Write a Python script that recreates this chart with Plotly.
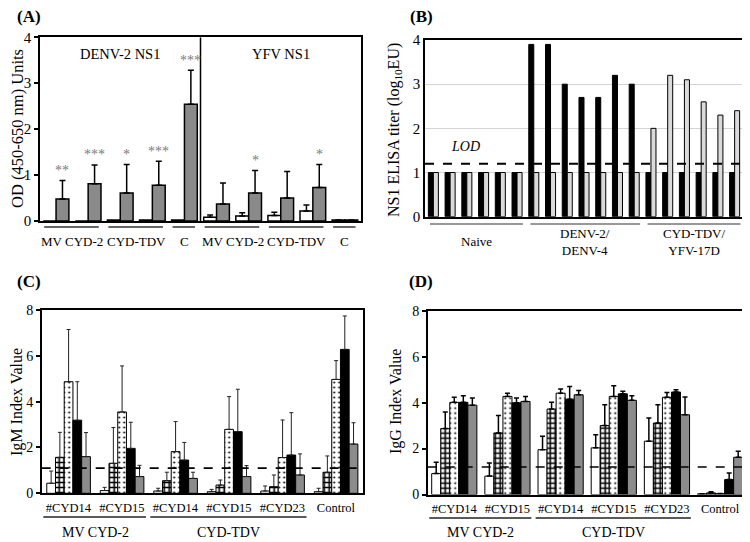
import plotly.graph_objects as go

FONT = "Liberation Serif"
W, H = 750, 542
OFF = 8  # page body margin compensation (px)

# ---------------- Panel A data ----------------
a_denv_x = [1, 2, 3, 4, 5]
a_yfv_x = [6, 7, 8, 9, 10]
a_denv_white = [0.0, 0.0, 0.02, 0.02, 0.02]
a_denv_gray = [0.48, 0.81, 0.61, 0.78, 2.54]
a_denv_gray_sd = [0.40, 0.41, 0.62, 0.52, 0.74]
a_yfv_white = [0.08, 0.11, 0.12, 0.22, 0.02]
a_yfv_white_sd = [0.05, 0.07, 0.07, 0.13, 0.0]
a_yfv_gray = [0.37, 0.61, 0.50, 0.73, 0.02]
a_yfv_gray_sd = [0.46, 0.49, 0.58, 0.50, 0.0]
a_denv_stars = ["**", "***", "*", "***", "***"]
a_yfv_stars = ["", "*", "", "*", ""]
a_group_labels = ["MV CYD-2", "CYD-TDV", "C", "MV CYD-2", "CYD-TDV", "C"]
a_group_spans = [(1, 2), (3, 4), (5, 5), (6, 7), (8, 9), (10, 10)]
a_panel_titles = ["DENV-2 NS1", "YFV NS1"]

# ---------------- Panel B data ----------------
b_x = list(range(1, 20))
b_black = [1, 1, 1, 1, 1, 1,
           3.9, 3.9, 3.0, 2.7, 2.7, 3.2, 3.0,
           1, 1, 1, 1, 1, 1]
b_gray = [1, 1, 1, 1, 1, 1,
          1, 1, 1, 1, 1, 1, 1,
          2.0, 3.2, 3.1, 2.6, 2.3, 2.4]
b_group_labels = ["Naive", "DENV-2/<br>DENV-4", "CYD-TDV/<br>YFV-17D"]
b_group_spans = [(1, 6), (7, 13), (14, 19)]
b_lod = 1.2

# ---------------- Panel C / D data ----------------
cd_x = [1, 2, 3, 4, 5, 6]
cd_ticks = ["#CYD14", "#CYD15", "#CYD14", "#CYD15", "#CYD23", "Control"]
cd_group_labels = ["MV CYD-2", "CYD-TDV"]
cd_group_spans = [(1, 2), (3, 5)]

c_white = [0.44, 0.12, 0.10, 0.07, 0.10, 0.07]
c_white_sd = [0.53, 0.14, 0.12, 0.10, 0.22, 0.15]
c_checker = [1.57, 1.31, 0.55, 0.36, 0.29, 0.92]
c_checker_sd = [1.09, 1.56, 0.37, 0.22, 0.51, 0.71]
c_dotted = [4.87, 3.55, 1.82, 2.79, 1.56, 4.97]
c_dotted_sd = [2.28, 2.01, 1.31, 1.43, 1.64, 0.82]
c_black = [3.19, 1.96, 1.45, 2.69, 1.67, 6.28]
c_black_sd = [1.68, 1.14, 0.77, 1.85, 1.85, 1.46]
c_gray = [1.60, 0.73, 0.65, 0.73, 0.80, 2.15]
c_gray_sd = [1.05, 0.49, 0.27, 0.48, 0.92, 0.93]
c_cutoff = 1.1

d_white = [0.91, 0.80, 1.95, 2.03, 2.32, 0.03]
d_white_sd = [0.49, 0.57, 0.58, 0.57, 1.01, 0.0]
d_checker = [2.87, 2.68, 3.72, 3.00, 3.11, 0.07]
d_checker_sd = [0.72, 0.76, 0.29, 0.91, 0.80, 0.05]
d_dotted = [4.01, 4.27, 4.41, 4.27, 4.23, 0.04]
d_dotted_sd = [0.22, 0.14, 0.18, 0.46, 0.21, 0.0]
d_black = [4.01, 3.99, 4.15, 4.38, 4.46, 0.65]
d_black_sd = [0.29, 0.21, 0.55, 0.11, 0.10, 0.29]
d_gray = [3.89, 4.05, 4.34, 4.10, 3.47, 1.62]
d_gray_sd = [0.31, 0.22, 0.19, 0.20, 0.77, 0.26]
d_cutoff = 1.2


def py(p):
    return 1 - (p - OFF) / H


def px(p):
    return (p - OFF) / W


fig = go.Figure()

# ---------- Panel A bars ----------
A_GRAY = "#8a8a8a"
eA = dict(color="black", thickness=1.5, width=3)

fig.add_trace(go.Bar(x=a_denv_x, y=a_denv_white, offset=-0.4, width=0.4,
                     marker=dict(color="white", line=dict(color="black", width=1.5)),
                     xaxis="x", yaxis="y", showlegend=False))
fig.add_trace(go.Bar(x=a_denv_x, y=a_denv_gray, offset=0.0, width=0.4,
                     marker=dict(color=A_GRAY, line=dict(color="black", width=1.5)),
                     error_y=dict(type="data", symmetric=False, array=a_denv_gray_sd,
                                  arrayminus=[0] * 5, **eA),
                     xaxis="x", yaxis="y", showlegend=False))
fig.add_trace(go.Bar(x=a_yfv_x, y=a_yfv_white, offset=-0.4, width=0.4,
                     marker=dict(color="white", line=dict(color="black", width=1.5)),
                     error_y=dict(type="data", symmetric=False, array=a_yfv_white_sd,
                                  arrayminus=[0] * 5, **eA),
                     xaxis="x", yaxis="y", showlegend=False))
fig.add_trace(go.Bar(x=a_yfv_x, y=a_yfv_gray, offset=0.0, width=0.4,
                     marker=dict(color=A_GRAY, line=dict(color="black", width=1.5)),
                     error_y=dict(type="data", symmetric=False, array=a_yfv_gray_sd,
                                  arrayminus=[0] * 5, **eA),
                     xaxis="x", yaxis="y", showlegend=False))

# ---------- Panel B bars ----------
fig.add_trace(go.Bar(x=b_x, y=b_black, offset=-0.3, width=0.3,
                     marker=dict(color="black", line=dict(color="black", width=1)),
                     xaxis="x2", yaxis="y2", showlegend=False))
fig.add_trace(go.Bar(x=b_x, y=b_gray, offset=0.0, width=0.3,
                     marker=dict(color="#dadada", line=dict(color="black", width=1)),
                     xaxis="x2", yaxis="y2", showlegend=False))

# ---------- Panels C, D bars ----------
styles = [
    dict(color="white", line=dict(color="black", width=1)),
    dict(color="white", line=dict(color="black", width=1),
         pattern=dict(shape="+", fgcolor="black", bgcolor="white", size=5, solidity=0.55,
                      fillmode="replace")),
    dict(color="white", line=dict(color="black", width=1),
         pattern=dict(shape=".", fgcolor="black", bgcolor="white", size=5, solidity=0.13,
                      fillmode="replace")),
    dict(color="black", line=dict(color="black", width=1)),
    dict(color="#8c8c8c", line=dict(color="black", width=1)),
]

c_series = [(c_white, c_white_sd), (c_checker, c_checker_sd), (c_dotted, c_dotted_sd),
            (c_black, c_black_sd), (c_gray, c_gray_sd)]
d_series = [(d_white, d_white_sd), (d_checker, d_checker_sd), (d_dotted, d_dotted_sd),
            (d_black, d_black_sd), (d_gray, d_gray_sd)]

for k, (vals, sds) in enumerate(c_series):
    fig.add_trace(go.Bar(x=cd_x, y=vals, offset=-0.405 + k * 0.163, width=0.163,
                         marker=styles[k],
                         error_y=dict(type="data", symmetric=False, array=sds,
                                      arrayminus=[0] * 6, color="#222", thickness=1, width=2),
                         xaxis="x3", yaxis="y3", showlegend=False))
for k, (vals, sds) in enumerate(d_series):
    fig.add_trace(go.Bar(x=cd_x, y=vals, offset=-0.425 + k * 0.17, width=0.17,
                         marker=styles[k],
                         error_y=dict(type="data", symmetric=False, array=sds,
                                      arrayminus=[0] * 6, color="black", thickness=1.5, width=2.5),
                         xaxis="x4", yaxis="y4", showlegend=False))

# ---------- axes ----------
def yax(dom, rng, dtick, size, anchor, ticks="outside", grid=False):
    return dict(domain=dom, range=rng, dtick=dtick, anchor=anchor, showline=True, mirror=True,
                linecolor="black", linewidth=1.5, ticks=ticks, ticklen=4, tickwidth=1.5,
                tickcolor="black", showgrid=grid, gridcolor="#d4d4d4", gridwidth=1,
                zeroline=False, tickfont=dict(family=FONT, size=size, color="black"),
                automargin=False, fixedrange=True)


def xax(dom, rng, anchor, tickvals=None, ticktext=None, size=12.5):
    d = dict(domain=dom, range=rng, anchor=anchor, showline=True, mirror=True,
             linecolor="black", linewidth=1.5, ticks="", showgrid=False, zeroline=False,
             automargin=False, fixedrange=True)
    if tickvals is None:
        d["showticklabels"] = False
    else:
        d.update(tickvals=tickvals, ticktext=ticktext, ticklabelstandoff=2,
                 tickfont=dict(family=FONT, size=size, color="black"))
    return d


fig.update_layout(
    template="none",
    width=W, height=H, margin=dict(l=0, r=0, t=0, b=0, pad=0, autoexpand=False),
    paper_bgcolor="white", plot_bgcolor="white", barmode="overlay",
    font=dict(family=FONT, color="black"),
    xaxis=xax([px(40), px(361)], [0.5, 10.5], "y"),
    yaxis=yax([py(221), py(37.3)], [0, 4], 1, 15, "x"),
    xaxis2=xax([px(425), px(743)], [0.5, 19.5], "y2"),
    yaxis2=yax([py(216.7), py(40)], [0, 4], 1, 15, "x2", ticks="", grid=True),
    xaxis3=xax([px(41.7), px(362.7)], [0.5, 6.5], "y3", cd_x, cd_ticks),
    yaxis3=yax([py(493.3), py(310)], [0, 8], 2, 14, "x3"),
    xaxis4=xax([px(427.7), px(746.7)], [0.5, 6.5], "y4", cd_x, cd_ticks),
    yaxis4=yax([py(494.5), py(310.7)], [0, 8], 2, 14, "x4"),
)

ann = []
shapes = []
C = dict(xanchor="center", yanchor="middle", showarrow=False)

# panel letters (kept clear of the page's top edge)
for t, x, y in [("(A)", 29, 16), ("(B)", 421, 16), ("(C)", 29, 281), ("(D)", 421, 281)]:
    ann.append(dict(text=f"<b>{t}</b>", x=px(x), y=py(y), xref="paper", yref="paper",
                    font=dict(size=17, family=FONT), **C))

# y titles
for t, x, y, s in [("OD (450-650 nm) Units", 18, 129, 16.5),
                   ("NS1 ELISA titer (log<sub>10</sub>EU)", 394, 130, 16),
                   ("IgM Index Value", 17, 402, 16),
                   ("IgG Index Value", 396, 402, 16)]:
    ann.append(dict(text=t, x=px(x), y=py(y), xref="paper", yref="paper", textangle=-90,
                    font=dict(size=s, family=FONT), **C))

# Panel A extras
ann.append(dict(text=a_panel_titles[0], x=3, y=py(54), xref="x", yref="paper",
                font=dict(size=14.5, family=FONT), **C))
ann.append(dict(text=a_panel_titles[1], x=8, y=py(54), xref="x", yref="paper",
                font=dict(size=14.5, family=FONT), **C))
shapes.append(dict(type="line", xref="x", yref="y", x0=5.5, x1=5.5, y0=0, y1=4,
                   line=dict(color="black", width=1.5)))
for xs, vals, sds, stars in [(a_denv_x, a_denv_gray, a_denv_gray_sd, a_denv_stars),
                             (a_yfv_x, a_yfv_gray, a_yfv_gray_sd, a_yfv_stars)]:
    for x, v, s, st in zip(xs, vals, sds, stars):
        if st:
            ann.append(dict(text=st, x=x + 0.2, y=v + s, xref="x", yref="y", xanchor="center",
                            yanchor="middle", yshift=10, showarrow=False,
                            font=dict(size=14, family=FONT, color="#7a7a7a")))
for (g0, g1), lab in zip(a_group_spans, a_group_labels):
    shapes.append(dict(type="line", xref="x", yref="paper", x0=g0 - 0.37, x1=g1 + 0.33,
                       y0=py(227), y1=py(227), line=dict(color="#333", width=1.5)))
    ann.append(dict(text=lab, x=(g0 + g1) / 2, y=py(241), xref="x", yref="paper",
                    font=dict(size=13, family=FONT), **C))

# Panel B extras
shapes.append(dict(type="line", xref="x2 domain", yref="y2", x0=0, x1=1, y0=b_lod, y1=b_lod,
                   line=dict(color="black", width=2, dash="dash")))
ann.append(dict(text="<i>LOD</i>", x=2.9, y=1.58, xref="x2", yref="y2",
                font=dict(size=14, family=FONT), **C))
for (g0, g1), lab in zip(b_group_spans, b_group_labels):
    shapes.append(dict(type="line", xref="x2", yref="paper", x0=g0 - 0.2, x1=g1 + 0.35,
                       y0=py(224), y1=py(224), line=dict(color="#333", width=1.2)))
    ann.append(dict(text=lab, x=(g0 + g1) / 2 + 0.05, y=py(242), xref="x2", yref="paper",
                    font=dict(size=13, family=FONT), **C))

# Panels C/D extras
for xa, ya, cut, yline, ylab in [("x3", "y3", c_cutoff, 517, 532), ("x4", "y4", d_cutoff, 518, 532)]:
    shapes.append(dict(type="line", xref=f"{xa} domain", yref=ya, x0=0, x1=1, y0=cut, y1=cut,
                       line=dict(color="black", width=1.6, dash="dash")))
    for (g0, g1), lab in zip(cd_group_spans, cd_group_labels):
        shapes.append(dict(type="line", xref=xa, yref="paper", x0=g0 - 0.47, x1=g1 + 0.45,
                           y0=py(yline), y1=py(yline), line=dict(color="#222", width=1.5)))
        ann.append(dict(text=lab, x=(g0 + g1) / 2, y=py(ylab), xref=xa, yref="paper",
                        font=dict(size=14, family=FONT), **C))

fig.update_layout(annotations=ann, shapes=shapes)
fig.write_html("out.html")
